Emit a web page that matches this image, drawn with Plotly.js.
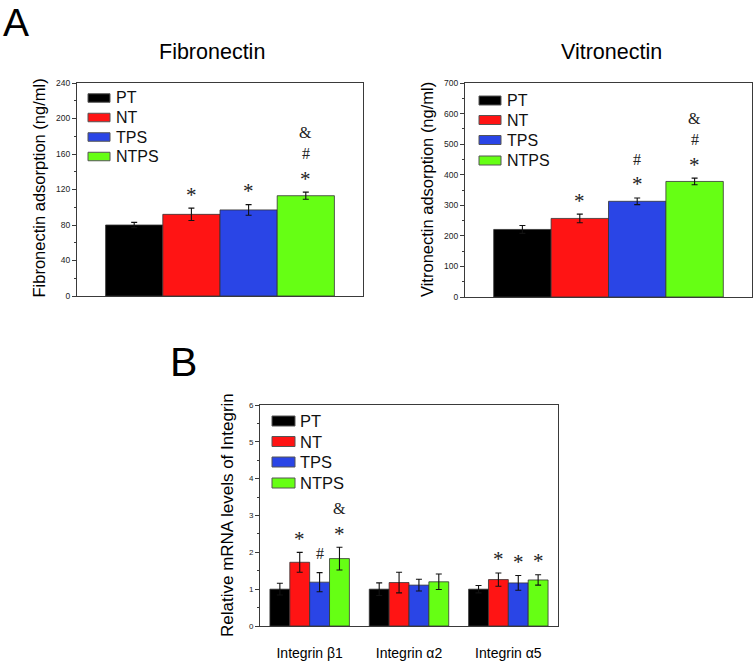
<!DOCTYPE html>
<html>
<head>
<meta charset="utf-8">
<script src="https://cdn.plot.ly/plotly-3.0.1.min.js"></script>
<style>html,body{margin:0;padding:0;background:#fff;}#chart{width:756px;height:662px;}</style>
</head>
<body>
<div id="chart"></div>
<script>
// ---------- data ----------
const groups = ['PT', 'NT', 'TPS', 'NTPS'];
const colors = ['#000000', '#ff1414', '#2a45e6', '#66ff14'];

const fibCategory = ['Fibronectin'];
const fibValues = [80, 92, 97, 113];
const fibErrors = [3, 7, 6, 4];
// significance marks, listed from bottom to top
const fibSig = [[], ['*'], ['*'], ['*', '#', '&']];

const vitCategory = ['Vitronectin'];
const vitValues = [221, 257, 313, 378];
const vitErrors = [13, 14, 11, 11];
const vitSig = [[], ['*'], ['*', '#'], ['*', '#', '&']];

const integrinCategories = ['Integrin β1', 'Integrin α2', 'Integrin α5'];
const integrinPT = [1.0, 1.0, 1.0];
const integrinNT = [1.73, 1.18, 1.26];
const integrinTPS = [1.19, 1.11, 1.17];
const integrinNTPS = [1.83, 1.20, 1.25];
const integrinPTErr = [0.16, 0.17, 0.10];
const integrinNTErr = [0.27, 0.28, 0.18];
const integrinTPSErr = [0.26, 0.16, 0.20];
const integrinNTPSErr = [0.31, 0.21, 0.14];
const integrinSigPT = [[], [], []];
const integrinSigNT = [['*'], [], ['*']];
const integrinSigTPS = [['#'], [], ['*']];
const integrinSigNTPS = [['*', '&'], [], ['*']];

const fibTicks = [0, 40, 80, 120, 160, 200, 240];
const vitTicks = [0, 100, 200, 300, 400, 500, 600, 700];
const intTicks = [0, 1, 2, 3, 4, 5, 6];

// ---------- helpers ----------
const W = 756, H = 662;
const px = x => x / W;
const py = y => 1 - y / H;
const SANS = 'Arial, "Liberation Sans", Helvetica, sans-serif';
const SERIF = '"Times New Roman", "Liberation Serif", serif';
const lineCol = '#3a3a3a';

const traces = [];
const annotations = [];
const shapes = [];

function addPanel(xa, ya, cats, valsByGroup, errsByGroup, sigByGroup) {
  groups.forEach((g, i) => {
    traces.push({
      type: 'bar', name: g, x: cats, y: valsByGroup[i],
      xaxis: xa, yaxis: ya, showlegend: false,
      marker: {color: colors[i], line: {color: '#333', width: 0.8}},
      error_y: {type: 'data', array: errsByGroup[i], visible: true, color: '#111', thickness: 1.1, width: 3},
      hoverinfo: 'y'
    });
    cats.forEach((c, k) => {
      const marks = sigByGroup[i][k] || [];
      marks.forEach((m, j) => {
        const star = m === '*';
        const centre = (j === 0 && !star ? 19 : 17) + 21.5 * j;
        annotations.push({
          xref: xa, yref: ya, x: k - 0.3 + 0.2 * i, y: valsByGroup[i][k] + errsByGroup[i][k],
          text: m, showarrow: false, xanchor: 'center', yanchor: 'middle', borderpad: 0,
          yshift: star ? centre - 3.5 : centre,
          font: {family: SERIF, size: star ? 21 : 16, color: '#222'}
        });
      });
    });
  });
}

addPanel('x', 'y', fibCategory, fibValues.map(v => [v]), fibErrors.map(v => [v]), fibSig.map(v => [v]));
addPanel('x2', 'y2', vitCategory, vitValues.map(v => [v]), vitErrors.map(v => [v]), vitSig.map(v => [v]));
addPanel('x3', 'y3', integrinCategories,
  [integrinPT, integrinNT, integrinTPS, integrinNTPS],
  [integrinPTErr, integrinNTErr, integrinTPSErr, integrinNTPSErr],
  [integrinSigPT, integrinSigNT, integrinSigTPS, integrinSigNTPS]);

// legends drawn as shapes + text
function addLegend(x0, rows, bw, bh, tx, size) {
  groups.forEach((g, i) => {
    const cy = rows[i];
    shapes.push({type: 'rect', xref: 'paper', yref: 'paper',
      x0: px(x0), x1: px(x0 + bw), y0: py(cy + bh / 2), y1: py(cy - bh / 2),
      fillcolor: colors[i], line: {color: '#555', width: 1}});
    annotations.push({xref: 'paper', yref: 'paper', x: px(tx), y: py(cy), text: g,
      showarrow: false, xanchor: 'left', yanchor: 'middle',
      font: {family: SANS, size: size, color: '#111'}});
  });
}
addLegend(88, [98, 117.5, 137, 156.5], 22, 8.5, 114, 16);
addLegend(479, [100.5, 120, 140, 160.5], 22, 9, 505, 16);
addLegend(272, [421, 441.5, 462, 483], 23, 10, 298, 16.5);

function txt(x, y, text, size, extra) {
  annotations.push(Object.assign({xref: 'paper', yref: 'paper', x: px(x), y: py(y), text: text,
    showarrow: false, xanchor: 'center', yanchor: 'middle',
    font: {family: SANS, size: size, color: '#000'}}, extra || {}));
}
txt(16, 0, 'A', 39, {yanchor: 'top', borderpad: 0});
txt(183, 362, 'B', 41);
txt(212, 52, 'Fibronectin', 21.5);
txt(611, 52, 'Vitronectin', 21.5);
txt(38, 188.5, 'Fibronectin adsorption (ng/ml)', 16.5, {textangle: -90});
txt(427, 189, 'Vitronectin adsorption (ng/ml)', 16.5, {textangle: -90});
txt(227, 515, 'Relative mRNA levels of Integrin', 17, {textangle: -90});

function yAxis(domain, ticks, minor, fsize) {
  return {
    domain: domain, range: [ticks[0], ticks[ticks.length - 1]], tickvals: ticks,
    ticks: 'outside', ticklen: 4, tickwidth: 1, tickcolor: lineCol,
    minor: {ticks: 'outside', ticklen: 2.5, dtick: minor, tickcolor: lineCol, showgrid: false},
    showline: true, linecolor: lineCol, linewidth: 1, mirror: true,
    showgrid: false, zeroline: false, fixedrange: true,
    tickfont: {family: SANS, size: fsize, color: '#222'}
  };
}
function xAxis(domain, nCats, showLabels) {
  return {
    domain: domain, type: 'category', range: [-0.5, nCats - 0.5],
    showline: true, linecolor: lineCol, linewidth: 1, mirror: true,
    showgrid: false, zeroline: false, fixedrange: true,
    showticklabels: showLabels, ticks: showLabels ? 'outside' : '', ticklen: 14,
    tickcolor: 'rgba(0,0,0,0)',
    tickfont: {family: SANS, size: 14, color: '#000'}
  };
}

const layout = {
  width: W, height: H,
  margin: {l: 0, r: 0, t: 0, b: 0},
  paper_bgcolor: '#fff', plot_bgcolor: '#fff',
  barmode: 'group', bargap: 0.2, bargroupgap: 0,
  showlegend: false,
  xaxis: Object.assign(xAxis([px(77), px(363)], 1, false), {anchor: 'y'}),
  yaxis: Object.assign(yAxis([py(296), py(83)], fibTicks, 20, 8.5), {anchor: 'x'}),
  xaxis2: Object.assign(xAxis([px(465), px(752)], 1, false), {anchor: 'y2'}),
  yaxis2: Object.assign(yAxis([py(297), py(83)], vitTicks, 50, 8.5), {anchor: 'x2'}),
  xaxis3: Object.assign(xAxis([px(260), px(558)], 3, true), {anchor: 'y3'}),
  yaxis3: Object.assign(yAxis([py(626), py(405)], intTicks, 0.5, 8), {anchor: 'x3'}),
  annotations: annotations,
  shapes: shapes
};

Plotly.newPlot('chart', traces, layout, {staticPlot: true, displayModeBar: false});
</script>
</body>
</html>
